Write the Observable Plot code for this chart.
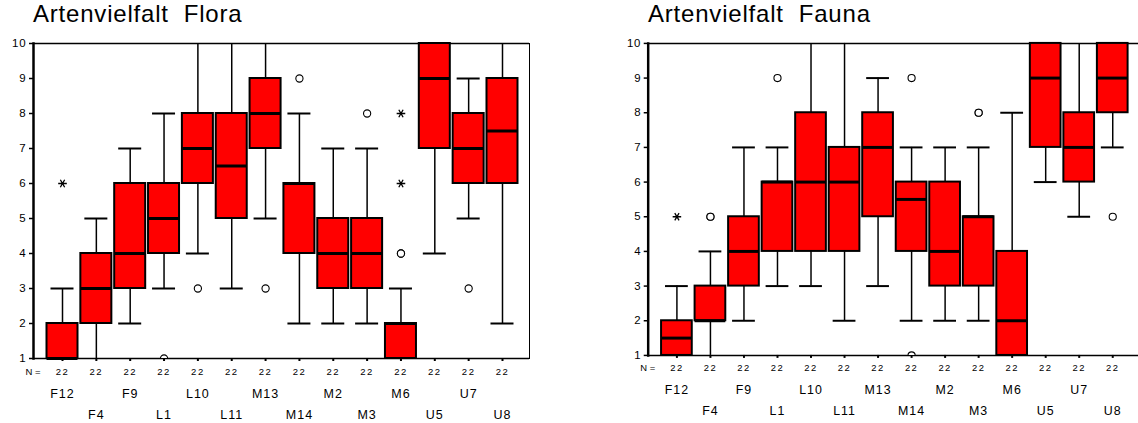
<!DOCTYPE html>
<html>
<head>
<meta charset="utf-8">
<script src="https://cdn.jsdelivr.net/npm/d3@7"></script>
<script src="https://cdn.jsdelivr.net/npm/@observablehq/plot@0.6"></script>
<style>
  html, body { margin: 0; padding: 0; background: #fff; width: 1138px; height: 423px; overflow: hidden; }
  .panel { position: absolute; top: 0; }
  .title { height: 34px; line-height: 35px; padding-left: 33px; font: 24px "Liberation Sans", Arial, sans-serif; letter-spacing: 0.8px; color: #000; white-space: pre; }
  svg { display: block; overflow: visible; }
</style>
</head>
<body>
<div id="flora" class="panel" style="left:0px"></div>
<div id="fauna" class="panel" style="left:615px"></div>
<script>
// Sampling sites (same order in both panels)
const cats = ["F12", "F4", "F9", "L1", "L10", "L11", "M13", "M14", "M2", "M3", "M6", "U5", "U7", "U8"];
const yTicks = [1, 2, 3, 4, 5, 6, 7, 8, 9, 10];

// Flora: box statistics per site
const floraN   = [22, 22, 22, 22, 22, 22, 22, 22, 22, 22, 22, 22, 22, 22];
const floraQ1  = [1, 2, 3, 4, 6, 5,   7, 4, 3, 3, 1, 7,  6, 6];
const floraMed = [1, 3, 4, 5, 7, 6.5, 8, 6, 4, 4, 2, 9,  7, 7.5];
const floraQ3  = [2, 4, 6, 6, 8, 8,   9, 6, 5, 5, 2, 10, 8, 9];
const floraLo  = [1, 1, 2, 3, 4, 3,   5, 2, 2, 2, 1, 4,  5, 2];
const floraHi  = [3, 5, 7, 8, 10, 10, 10, 8, 7, 7, 3, 10, 9, 10];
const floraOutliers = [["L1", 1], ["L10", 3], ["M13", 3], ["M14", 9], ["M3", 8], ["M6", 4], ["M6", 4], ["U7", 3]];
const floraExtremes = [["F12", 6], ["M6", 6], ["M6", 8]];

// Fauna: box statistics per site
const faunaN   = [22, 22, 22, 22, 22, 22, 22, 22, 22, 22, 22, 22, 22, 22];
const faunaQ1  = [1,   2, 3, 4, 4, 4, 5, 4,   3, 3, 1, 7,  6, 8];
const faunaMed = [1.5, 2, 4, 6, 6, 6, 7, 5.5, 4, 5, 2, 9,  7, 9];
const faunaQ3  = [2,   3, 5, 6, 8, 7, 8, 6,   6, 5, 4, 10, 8, 10];
const faunaLo  = [1,   1, 2, 3, 3, 2, 3, 2,   2, 2, 1, 6,  5, 7];
const faunaHi  = [3,   4, 7, 7, 10, 10, 9, 7, 7, 7, 8, 10, 10, 10];
const faunaOutliers = [["F4", 5], ["F4", 5], ["L1", 9], ["M14", 9], ["M14", 1], ["M3", 8], ["M3", 8], ["U8", 5]];
const faunaExtremes = [["F12", 5]];

// Asterisk with a horizontal bar, used for extreme values
const star = {
  draw(ctx, size) {
    const r = Math.sqrt(size / Math.PI);
    for (const a of [0, Math.PI / 3, 2 * Math.PI / 3]) {
      const c = Math.cos(a) * r, s = Math.sin(a) * r;
      ctx.moveTo(c, s);
      ctx.lineTo(-c, -s);
    }
  }
};

const FONT = '"Liberation Sans", Arial, sans-serif';

function panel(id, title, width, N, Q1, Med, Q3, Lo, Hi, outliers, extremes) {
  const boxes = cats.map((c, i) => ({cat: c, n: N[i], q1: Q1[i], med: Med[i], q3: Q3[i], lo: Lo[i], hi: Hi[i]}));
  const [ymin, ymax] = [yTicks[0], yTicks[yTicks.length - 1]];
  const chart = Plot.plot({
    width,
    height: 389,
    marginTop: 9,
    marginBottom: 65,
    marginLeft: 33,
    marginRight: width - 529,
    style: {fontFamily: FONT, background: "white", color: "black", overflow: "visible"},
    x: {type: "band", domain: cats, range: [45.08, 518.92], paddingInner: 0.084, paddingOuter: 0.042, align: 0.5, round: false},
    y: {domain: [ymin, ymax]},
    marks: [
      // frame: thin right edge, heavier top/bottom/left
      Plot.frame({anchor: "right", stroke: "black", strokeWidth: 1}),
      Plot.ruleY([ymax], {stroke: "black", strokeWidth: 1.5}),
      Plot.ruleY([ymin], {stroke: "black", strokeWidth: 1.5}),
      Plot.frame({anchor: "left", stroke: "black", strokeWidth: 2.5}),
      Plot.axisY({ticks: yTicks, tickSize: 4, tickPadding: 3, fontSize: 11.5, label: null, strokeWidth: 1.5}),
      Plot.axisX({tickSize: 3, tickFormat: () => "", label: null, strokeWidth: 2}),
      // whiskers
      Plot.ruleX(boxes.filter(d => d.hi > d.q3), {x: "cat", y1: "q3", y2: "hi", stroke: "black", strokeWidth: 1.5}),
      Plot.ruleX(boxes.filter(d => d.lo < d.q1), {x: "cat", y1: "q1", y2: "lo", stroke: "black", strokeWidth: 1.5}),
      Plot.tickY(boxes.filter(d => d.hi > d.q3 && d.hi < ymax), {x: "cat", y: "hi", insetLeft: 4, insetRight: 4, stroke: "black", strokeWidth: 2}),
      Plot.tickY(boxes.filter(d => d.lo < d.q1 && d.lo > ymin), {x: "cat", y: "lo", insetLeft: 4, insetRight: 4, stroke: "black", strokeWidth: 2}),
      // boxes and medians
      Plot.barY(boxes, {x: "cat", y1: "q1", y2: "q3", fill: "#ff0000", stroke: "black", strokeWidth: 2}),
      Plot.tickY(boxes, {x: "cat", y: "med", stroke: "black", strokeWidth: 3}),
      // outliers and extremes
      Plot.dot(outliers, {x: d => d[0], y: d => d[1], r: 3.6, stroke: "black", fill: "white", strokeWidth: 1.1, clip: true}),
      Plot.dot(extremes, {x: d => d[0], y: d => d[1], r: 4.3, symbol: star, stroke: "black", strokeWidth: 1.3}),
      // case counts
      Plot.text(["N ="], {text: d => d, frameAnchor: "bottom-left", dx: -8, dy: 16, textAnchor: "start", lineAnchor: "bottom", fontSize: 9.5}),
      Plot.text(boxes, {x: "cat", text: d => String(d.n), frameAnchor: "bottom", dy: 16, lineAnchor: "bottom", fontSize: 9.5}),
      // site labels on two staggered rows
      Plot.text(cats, {x: d => d, text: d => d, filter: (d, i) => i % 2 === 0, frameAnchor: "bottom", dy: 39, lineAnchor: "bottom", fontSize: 12.5}),
      Plot.text(cats, {x: d => d, text: d => d, filter: (d, i) => i % 2 === 1, frameAnchor: "bottom", dy: 60, lineAnchor: "bottom", fontSize: 12.5})
    ]
  });
  const tickLabels = yTicks.map(String);
  const texts = d3.select(chart).selectAll("text");
  texts.filter(function () { return /^\d+$/.test(this.textContent) && !tickLabels.includes(this.textContent); })
    .attr("letter-spacing", "1.5");
  texts.filter(function () { return tickLabels.includes(this.textContent); })
    .attr("letter-spacing", "0.8");
  texts.filter(function () { return cats.includes(this.textContent); })
    .attr("letter-spacing", "1");
  const host = document.getElementById(id);
  const h = document.createElement("div");
  h.className = "title";
  h.textContent = title;
  host.appendChild(h);
  host.appendChild(chart);
}

panel("flora", "Artenvielfalt  Flora", 560, floraN, floraQ1, floraMed, floraQ3, floraLo, floraHi, floraOutliers, floraExtremes);
panel("fauna", "Artenvielfalt  Fauna", 528, faunaN, faunaQ1, faunaMed, faunaQ3, faunaLo, faunaHi, faunaOutliers, faunaExtremes);
</script>
</body>
</html>
